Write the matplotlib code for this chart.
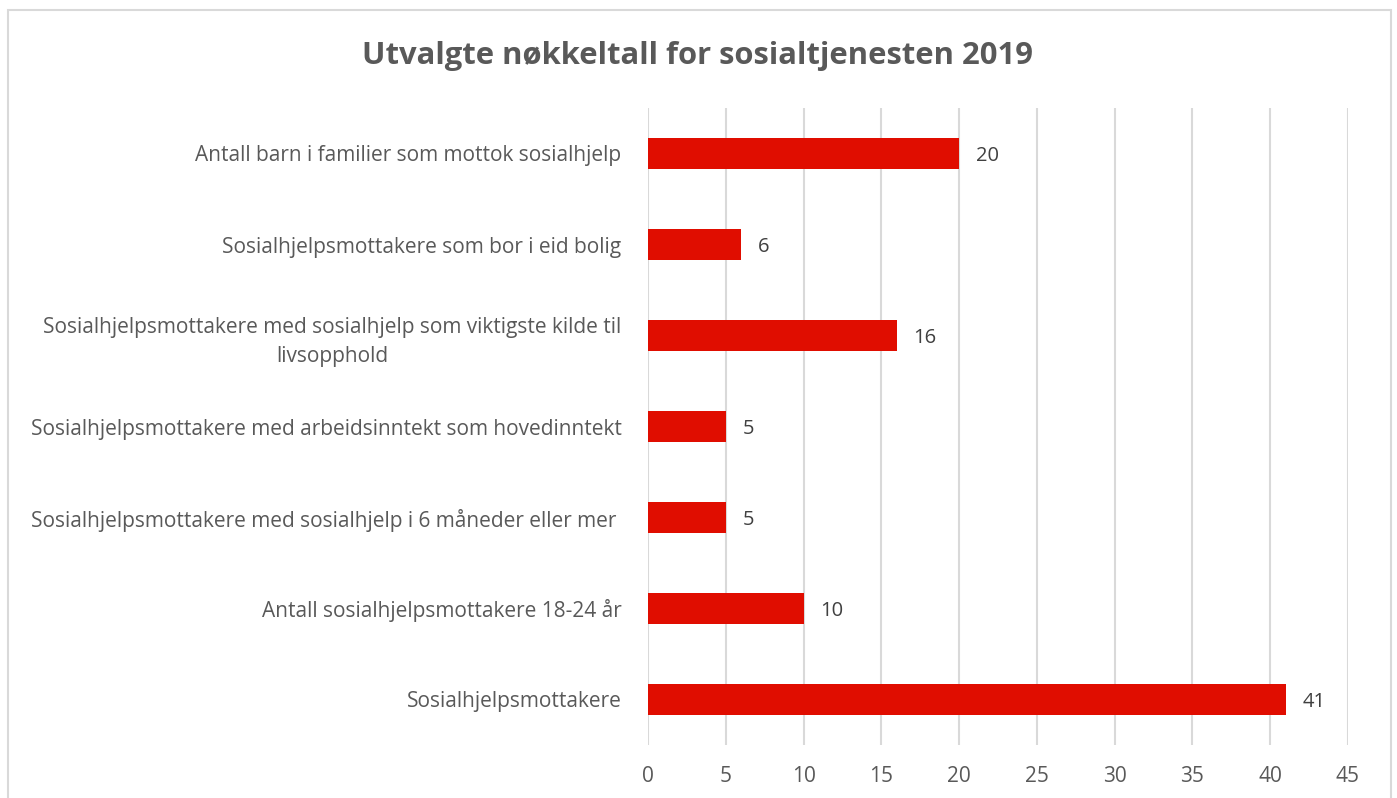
import matplotlib
matplotlib.use("Agg")
import matplotlib.pyplot as plt
from matplotlib.patches import Rectangle

categories = [
    "Antall barn i familier som mottok sosialhjelp",
    "Sosialhjelpsmottakere som bor i eid bolig",
    "Sosialhjelpsmottakere med sosialhjelp som viktigste kilde til\nlivsopphold",
    "Sosialhjelpsmottakere med arbeidsinntekt som hovedinntekt",
    "Sosialhjelpsmottakere med sosialhjelp i 6 måneder eller mer ",
    "Antall sosialhjelpsmottakere 18-24 år",
    "Sosialhjelpsmottakere",
]
values = [20, 6, 16, 5, 5, 10, 41]
xticks = [0, 5, 10, 15, 20, 25, 30, 35, 40, 45]
title = "Utvalgte nøkkeltall for sosialtjenesten 2019"

plt.rcParams['font.family'] = ['Open Sans', 'DejaVu Sans']
gray = "#595959"
red = "#E00D00"

fig = plt.figure(figsize=(13.97, 7.98), dpi=100)
fig.patches.append(Rectangle((8/1397, -0.01), (1391-8)/1397, 1 - 10/798 + 0.01,
                             transform=fig.transFigure, fill=False,
                             edgecolor="#D9D9D9", linewidth=1.5))

ax = fig.add_axes([648/1397, 1 - 745/798, (1348-648)/1397, (745-108)/798])
n = len(categories)
ypos = list(range(n))[::-1]
ax.barh(ypos, values, height=0.35, color=red, zorder=3)
ax.set_xlim(0, 45)
ax.set_ylim(-0.5, n - 0.5)
ax.set_xticks(xticks)
ax.set_xticklabels([str(t) for t in xticks], fontsize=15, color=gray)
ax.set_yticks(ypos)
ax.set_yticklabels(categories, fontsize=15, color=gray, multialignment='center',
                   linespacing=1.5)
ax.tick_params(axis='both', length=0)
ax.tick_params(axis='x', pad=15)
ax.tick_params(axis='y', pad=19)
ax.grid(axis='x', color="#D9D9D9", linewidth=1.5, zorder=0)
for s in ax.spines.values():
    s.set_visible(False)

for y, v in zip(ypos, values):
    ax.annotate(str(v), (v, y), xytext=(12, -2), textcoords='offset points',
                va='center', ha='left', fontsize=14.5, color="#404040")

fig.text(698/1397, 1 - 56/798, title, ha='center', va='center',
         fontsize=22.3, fontweight='bold', color=gray)

fig.savefig("out.png", dpi=100)
